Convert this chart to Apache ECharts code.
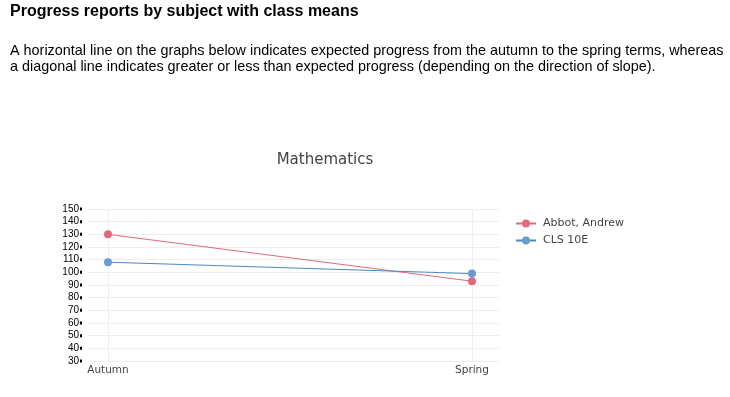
<!DOCTYPE html>
<html>
<head>
<meta charset="utf-8">
<script src="https://cdn.jsdelivr.net/npm/echarts@6/dist/echarts.min.js"></script>
<style>
html,body{margin:0;padding:0;background:#fff;}
#chart{width:730px;height:397px;}
</style>
</head>
<body>
<div id="chart"></div>
<script>
var categories = ['Autumn', 'Spring'];
var abbotValues = [130, 93];
var classValues = [108, 99];
var seriesNames = ['Abbot, Andrew', 'CLS 10E'];
var yMin = 30, yMax = 150, yStep = 10;

var red = '#e0697b';
var blue = '#6a9bd1';

var chart = echarts.init(document.getElementById('chart'), null, {renderer: 'canvas'});
var option = {
  animation: false,
  backgroundColor: '#fff',
  graphic: [
    {type: 'text', x: 10, y: 4, style: {text: 'Progress reports by subject with class means', font: 'bold 16px "Liberation Sans", Arial, sans-serif', fill: '#000', verticalAlign: 'top'}},
    {type: 'text', x: 10, y: 43, style: {text: 'A horizontal line on the graphs below indicates expected progress from the autumn to the spring terms, whereas\na diagonal line indicates greater or less than expected progress (depending on the direction of slope).', font: '14.4px "Liberation Sans", Arial, sans-serif', lineHeight: 16, fill: '#000', verticalAlign: 'top'}},
    {type: 'text', x: 325, y: 160, style: {text: 'Mathematics', font: '15px "DejaVu Sans", Verdana, sans-serif', fill: '#444', align: 'center', verticalAlign: 'middle'}}
  ],
  legend: {
    orient: 'vertical',
    left: 510,
    top: 213,
    itemWidth: 20,
    itemHeight: 10,
    itemGap: 6,
    data: seriesNames,
    textStyle: {fontFamily: '"DejaVu Sans", Verdana, sans-serif', fontSize: 11, color: '#444', padding: [0, 0, 0, 2]}
  },
  grid: [
    {left: 88, right: 231, top: 209, bottom: 36},
    {left: 108, right: 258, top: 209, bottom: 36}
  ],
  xAxis: [
    {gridIndex: 0, type: 'value', min: 0, max: 1, show: false},
    {gridIndex: 1, type: 'category', data: categories, boundaryGap: false,
     axisLine: {show: false}, axisTick: {show: false},
     axisLabel: {margin: 4, fontFamily: '"DejaVu Sans", Verdana, sans-serif', fontSize: 10.5, color: '#444'},
     splitLine: {show: true, lineStyle: {color: '#eee', width: 1}}}
  ],
  yAxis: [
    {gridIndex: 0, type: 'value', min: yMin, max: yMax, interval: yStep,
     axisLine: {show: false},
     axisTick: {show: false},
     axisLabel: {margin: 6, fontFamily: '"Liberation Sans", Arial, sans-serif', fontSize: 10, color: '#000',
       formatter: function (v) { return '{v|' + v + '}{g|}{t|}'; },
       rich: {
         v: {fontFamily: '"Liberation Sans", Arial, sans-serif', fontSize: 10, color: '#000'},
         g: {width: 1, height: 3},
         t: {width: 2, height: 3, backgroundColor: '#000'}
       }},
     splitLine: {show: true, lineStyle: {color: '#eee', width: 1}}},
    {gridIndex: 1, type: 'value', min: yMin, max: yMax, interval: yStep, show: false, splitLine: {show: false}}
  ],
  series: [
    {name: seriesNames[0], type: 'line', xAxisIndex: 1, yAxisIndex: 1, data: abbotValues,
     symbol: 'circle', symbolSize: 8, color: red,
     lineStyle: {width: 1, color: red}, itemStyle: {color: red}},
    {name: seriesNames[1], type: 'line', xAxisIndex: 1, yAxisIndex: 1, data: classValues,
     symbol: 'circle', symbolSize: 8, color: blue,
     lineStyle: {width: 1, color: '#4d88c6'}, itemStyle: {color: blue}}
  ]
};
chart.setOption(option);
</script>
</body>
</html>
